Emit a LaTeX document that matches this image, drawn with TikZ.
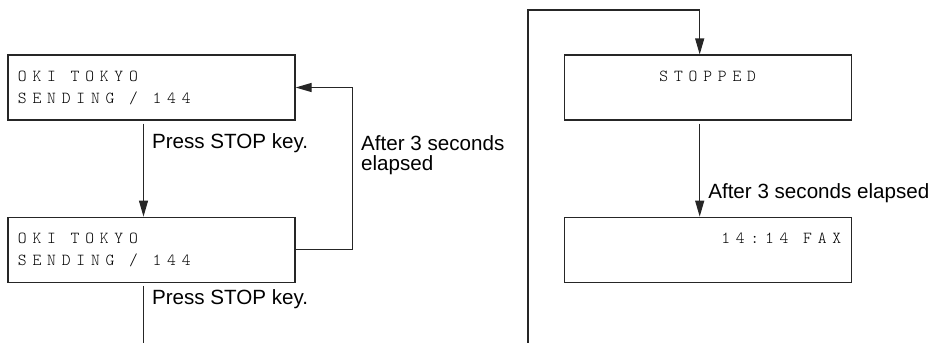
\documentclass[tikz,border=0pt]{standalone}
\usepackage{fontspec}
\setmainfont{Liberation Sans}
\newfontfamily\lcdfont{lmmonolt10-regular}[Extension=.otf, LetterSpace=34.5]
\usetikzlibrary{arrows.meta,positioning}

\newcommand\lcdtext{\fontsize{8.4}{11}\lcdfont}
\newcommand\notetext{\fontsize{10.3}{10}\selectfont}
\newcommand\lsp{\hspace*{7.3pt}} % one display cell

\begin{document}
\begin{tikzpicture}[
    node distance=48pt and 134pt,
    >={Triangle[length=8pt,width=4.5pt]},
    lcdbox/.style={
        draw=black!85,
        line width=0.6pt,
        text width=133.5pt, % display width
        inner xsep=5pt,
        inner ysep=0pt,
        minimum height=32.5pt,
        font=\lcdtext
    },
    leftbox/.style={lcdbox, align=left},
    midbox/.style={lcdbox, align=center},
    rightbox/.style={lcdbox, align=right},
    note/.style={font=\notetext, inner xsep=4pt, inner ysep=0pt, align=left},
    arrow/.style={->, line width=0.6pt, draw=black!85}
]
\useasboundingbox (0,0) rectangle (466.5pt,-171.5pt);

% Nodes
\node[leftbox] (box1) at (75.75pt,-43.75pt) {OKI\lsp TOKYO\\SENDING\lsp/\lsp 144};
\node[leftbox, below=of box1] (box2) {OKI\lsp TOKYO\\SENDING\lsp/\lsp 144};

\node[midbox, right=of box1] (box3) {STOPPED\hspace*{3pt}\\\mbox{}};
\node[rightbox, below=of box3] (box4) {14:14\lsp FAX\hspace*{5pt}\\\mbox{}};

% Free ends
\coordinate (out1) at (71.75pt,-171.5pt);
\coordinate (in2) at (264pt,-171.5pt);
\coordinate (top2) at (264pt,-5pt);

% Connections
\draw[arrow, shorten <=1.5pt] ([xshift=-4pt]box1.south) -- node[note, right, pos=0.24] (lbl1) {Press STOP key.} ([xshift=-4pt]box2.north);
\draw[arrow] (box2.east) -- ++(28.5pt,0) |- node[note, right, pos=0.29] (lbl2) {After 3 seconds\\elapsed} (box1.east);
\draw[line width=0.6pt, draw=black!85, shorten <=1.5pt] ([xshift=-4pt]box2.south) -- node[note, right, pos=0.27] (lbl3) {Press STOP key.} (out1);

\draw[arrow] (in2) -- (top2) -| ([xshift=-4pt]box3.north);
\draw[arrow, shorten <=1.5pt] ([xshift=-4pt]box3.south) -- node[note, right, pos=0.76] (lbl4) {After 3 seconds elapsed} ([xshift=-4pt]box4.north);

\end{tikzpicture}
\end{document}
